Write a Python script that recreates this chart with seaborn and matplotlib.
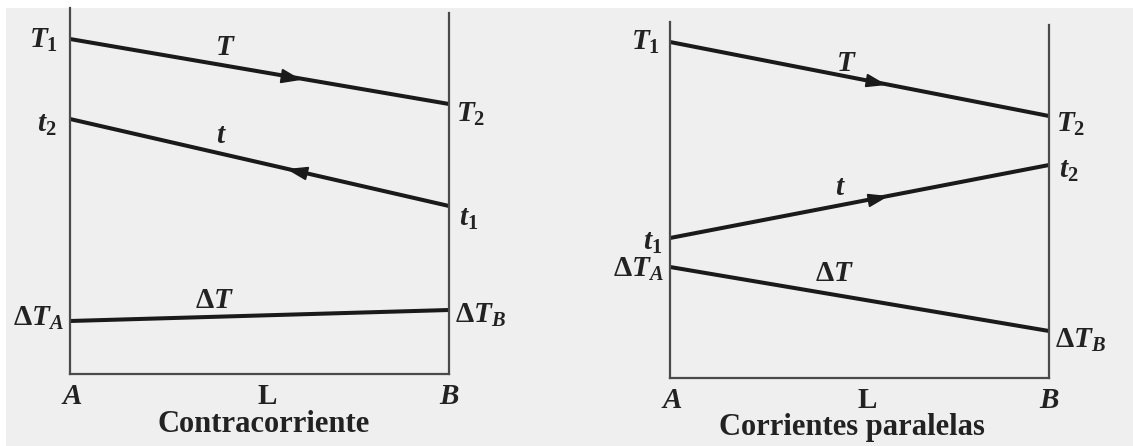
import numpy as np
import matplotlib.pyplot as plt
import seaborn as sns
from matplotlib.markers import MarkerStyle
from matplotlib.transforms import Affine2D
from matplotlib.patches import Rectangle

# position along the exchanger: A -> B
pos = [0.0, 1.0]

# contracorriente (counterflow), temperatures in drawing units
T_cc = [335, 270]
t_cc = [255, 168]
dT_cc = [53, 64]

# corrientes paralelas (parallel flow)
T_par = [336, 262]
t_par = [140, 213]
dT_par = [111, 47]

titles = ["Contracorriente", "Corrientes paralelas"]

sns.set_style("white")
plt.rcParams["font.family"] = ["Liberation Serif", "DejaVu Serif"]
plt.rcParams["font.weight"] = "bold"
plt.rcParams["mathtext.fontset"] = "custom"
plt.rcParams["mathtext.it"] = "Liberation Serif:italic:bold"
plt.rcParams["mathtext.rm"] = "Liberation Serif:bold"
plt.rcParams["mathtext.bf"] = "Liberation Serif:bold"

W, H = 1133, 446
fig = plt.figure(figsize=(W / 100, H / 100), dpi=100)
fig.patch.set_facecolor("white")
fig.patches.append(Rectangle((6 / W, 0), 1, (H - 8) / H, transform=fig.transFigure,
                             facecolor="#efefef", edgecolor="none", zorder=-10))

# panel boxes in pixels: left, right, bottom, top
boxes = [(70, 449, 374, 8), (670, 1049, 378, 22)]
ax1 = fig.add_axes([boxes[0][0] / W, (H - boxes[0][2]) / H,
                    (boxes[0][1] - boxes[0][0]) / W, (boxes[0][2] - boxes[0][3]) / H])
ax2 = fig.add_axes([boxes[1][0] / W, (H - boxes[1][2]) / H,
                    (boxes[1][1] - boxes[1][0]) / W, (boxes[1][2] - boxes[1][3]) / H])

LC = "#1a1a1a"
FS = 21


def setup(ax, box, rtop):
    ax.set_xlim(0, 1)
    ax.set_ylim(0, box[2] - box[3])
    ax.patch.set_visible(False)
    ax.set_xticks([])
    ax.set_yticks([])
    ax.spines["top"].set_visible(False)
    for s in ["left", "right", "bottom"]:
        ax.spines[s].set_visible(True)
        ax.spines[s].set_color("#4a4a4a")
        ax.spines[s].set_linewidth(1.6)
    ax.spines["right"].set_bounds(0, rtop)


def arrow(ax, y, frac, right=True):
    yy = np.interp(frac, pos, y)
    p0 = ax.transData.transform((pos[0], y[0]))
    p1 = ax.transData.transform((pos[1], y[1]))
    ang = np.degrees(np.arctan2(p1[1] - p0[1], p1[0] - p0[0]))
    if not right:
        ang += 180
    m = MarkerStyle(">", transform=Affine2D().scale(1.5, 1.0).rotate_deg(ang))
    ax.plot([frac], [yy], marker=m, markersize=9, color=LC, zorder=5)


def lab(ax, s, x, y, dx, dy, ha="center", size=FS):
    ax.annotate(s, (x, y), xytext=(dx, dy), textcoords="offset pixels",
                ha=ha, va="center", fontsize=size, color="#222222")


def mid(ax, s, y, frac, dy):
    lab(ax, s, frac, np.interp(frac, pos, y), 0, dy)


for ax, box, rtop in [(ax1, boxes[0], 361), (ax2, boxes[1], 353)]:
    setup(ax, box, rtop)

# contracorriente
for y in [T_cc, t_cc, dT_cc]:
    sns.lineplot(x=pos, y=y, ax=ax1, color=LC, linewidth=2.9)
arrow(ax1, T_cc, 0.58, True)
arrow(ax1, t_cc, 0.60, False)
lab(ax1, r"$T_1$", 0, T_cc[0], -12, -1, "right")
lab(ax1, r"$t_2$", 0, t_cc[0], -14, -5, "right")
lab(ax1, r"$\Delta T_A$", 0, dT_cc[0], -6, 3, "right")
lab(ax1, r"$T_2$", 1, T_cc[1], 7, -10, "left")
lab(ax1, r"$t_1$", 1, t_cc[1], 10, -12, "left")
lab(ax1, r"$\Delta T_B$", 1, dT_cc[1], 6, -5, "left")
mid(ax1, r"$T$", T_cc, 0.41, 18)
mid(ax1, r"$t$", t_cc, 0.40, 18)
mid(ax1, r"$\Delta T$", dT_cc, 0.38, 16)

# corrientes paralelas
for y in [T_par, t_par, dT_par]:
    sns.lineplot(x=pos, y=y, ax=ax2, color=LC, linewidth=2.9)
arrow(ax2, T_par, 0.54, True)
arrow(ax2, t_par, 0.545, True)
lab(ax2, r"$T_1$", 0, T_par[0], -10, 0, "right")
lab(ax2, r"$t_1$", 0, t_par[0], -8, -4, "right")
lab(ax2, r"$\Delta T_A$", 0, dT_par[0], -6, -2, "right")
lab(ax2, r"$T_2$", 1, T_par[1], 7, -8, "left")
lab(ax2, r"$t_2$", 1, t_par[1], 10, -5, "left")
lab(ax2, r"$\Delta T_B$", 1, dT_par[1], 6, -9, "left")
mid(ax2, r"$T$", T_par, 0.466, 13)
mid(ax2, r"$t$", t_par, 0.45, 18)
mid(ax2, r"$\Delta T$", dT_par, 0.435, 21)

for ax, title, cx in [(ax1, titles[0], 0.51), (ax2, titles[1], 0.48)]:
    lab(ax, r"$A$", 0, 0, 2, -22)
    lab(ax, "L", 0.52, 0, 0, -22)
    lab(ax, r"$B$", 1, 0, 0, -22)
    lab(ax, title, cx, 0, 0, -50, size=22)

fig.savefig("out.png", dpi=100, facecolor=fig.get_facecolor())
